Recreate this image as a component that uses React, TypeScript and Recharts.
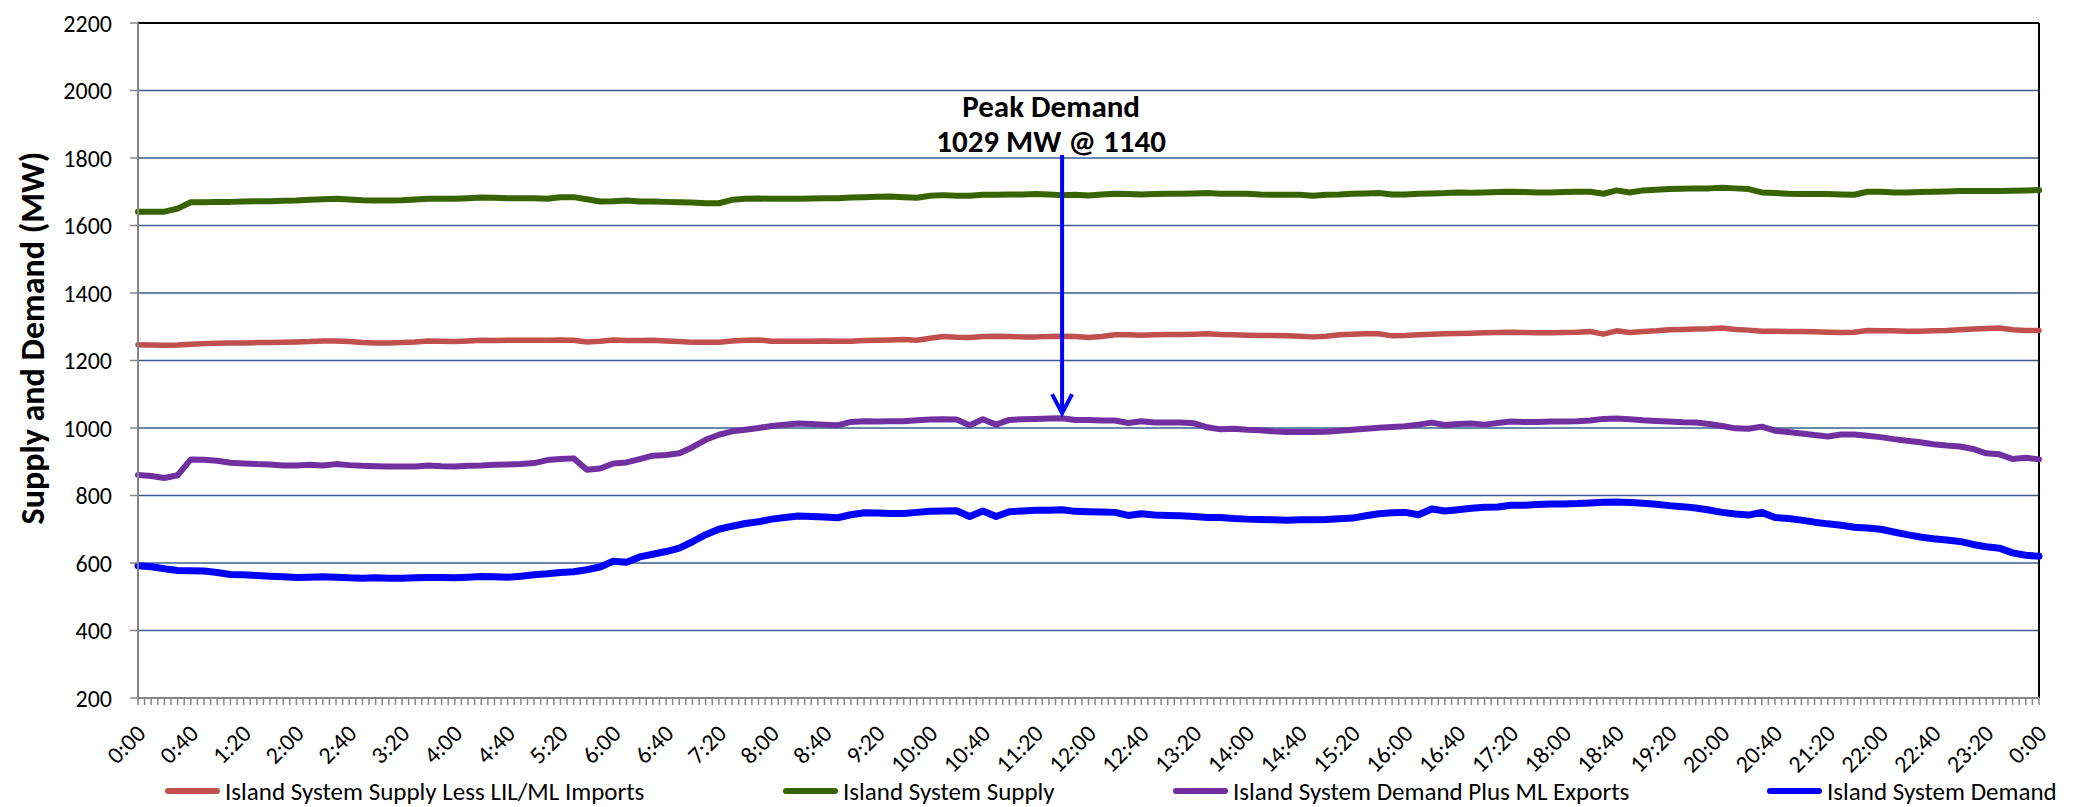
import React from "react";
import {
    LineChart,
    Line,
    XAxis,
    YAxis,
    CartesianGrid,
    ReferenceLine,
    Legend,
} from "recharts";

// 10-minute samples, 0:00 to 24:00
const minutes = Array.from({ length: 145 }, (_, i) => i * 10);

const supplyLessImports = [
    1247, 1246, 1245, 1246, 1248, 1250, 1251, 1252, 1252, 1253,
    1253, 1254, 1255, 1256, 1258, 1258, 1256, 1253, 1252, 1252,
    1253, 1255, 1258, 1257, 1256, 1258, 1260, 1259, 1260, 1260,
    1260, 1260, 1261, 1260, 1255, 1257, 1261, 1259, 1259, 1260,
    1258, 1256, 1254, 1254, 1254, 1258, 1260, 1261, 1257, 1257,
    1257, 1257, 1258, 1257, 1257, 1259, 1260, 1261, 1262, 1260,
    1266, 1271, 1269, 1268, 1271, 1272, 1271, 1270, 1270, 1271,
    1272, 1271, 1268, 1271, 1276, 1276, 1275, 1276, 1277, 1277,
    1278, 1279, 1277, 1276, 1275, 1274, 1274, 1273, 1272, 1270,
    1272, 1276, 1278, 1279, 1279, 1273, 1274, 1276, 1278, 1279,
    1280, 1281, 1282, 1283, 1284, 1283, 1282, 1282, 1283, 1284,
    1286, 1278, 1288, 1283, 1286, 1288, 1291, 1292, 1293, 1294,
    1296, 1292, 1290, 1287, 1287, 1286, 1286, 1285, 1284, 1283,
    1284, 1289, 1288, 1288, 1287, 1287, 1288, 1289, 1291, 1293,
    1295, 1296, 1291, 1289, 1289,
];

const supply = [
    1641, 1641, 1641, 1650, 1669, 1669, 1670, 1670, 1671, 1672,
    1672, 1673, 1674, 1676, 1678, 1679, 1677, 1675, 1674, 1674,
    1675, 1677, 1679, 1679, 1679, 1681, 1683, 1682, 1681, 1681,
    1681, 1679, 1684, 1684, 1678, 1671, 1672, 1674, 1671, 1671,
    1670, 1669, 1668, 1666, 1666, 1676, 1679, 1680, 1679, 1679,
    1679, 1680, 1681, 1681, 1683, 1684, 1685, 1686, 1684, 1682,
    1688, 1690, 1688, 1688, 1691, 1691, 1692, 1692, 1693, 1692,
    1690, 1691, 1689, 1692, 1694, 1693, 1692, 1693, 1694, 1694,
    1695, 1696, 1694, 1694, 1694, 1692, 1691, 1691, 1691, 1688,
    1691, 1692, 1694, 1695, 1696, 1692, 1692, 1694, 1695, 1696,
    1698, 1697, 1698, 1699, 1700, 1699, 1698, 1698, 1699, 1700,
    1700, 1694, 1704, 1698, 1704, 1706, 1708, 1709, 1710, 1710,
    1712, 1710, 1708, 1698, 1696, 1694, 1693, 1693, 1693, 1692,
    1691, 1700, 1700, 1698, 1698, 1699, 1700, 1701, 1702, 1702,
    1702, 1702, 1703, 1704, 1705,
];

const demandPlusExports = [
    861, 858, 852, 860, 907, 906, 903, 897, 895, 893,
    892, 889, 889, 891, 889, 893, 890, 888, 887, 886,
    886, 886, 889, 887, 886, 888, 889, 891, 892, 893,
    896, 905, 908, 910, 876, 880, 895, 898, 908, 918,
    920, 925, 943, 965, 980, 990, 995, 1000, 1006, 1010,
    1013, 1012, 1010, 1008, 1018, 1020, 1019, 1020, 1020, 1023,
    1025, 1026, 1025, 1008, 1026, 1010, 1024, 1026, 1027, 1028,
    1029, 1024, 1024, 1022, 1022, 1015, 1020, 1016, 1016, 1016,
    1014, 1002, 996, 998, 995, 993, 990, 988, 988, 988,
    989, 992, 995, 998, 1001, 1003, 1005, 1010, 1016, 1009,
    1012, 1013, 1010, 1015, 1019, 1018, 1018, 1019, 1019, 1020,
    1022, 1027, 1028, 1026, 1023, 1021, 1019, 1017, 1016, 1012,
    1006, 999, 998, 1004, 992, 988, 984, 979, 975, 981,
    981, 977, 973, 967, 962, 958, 952, 948, 945, 938,
    925, 922, 908, 912, 907,
];

const demand = [
    592, 589, 583, 578, 577, 576, 572, 566, 565, 563,
    561, 559, 557, 558, 559, 558, 556, 555, 556, 555,
    555, 556, 557, 557, 556, 558, 560, 559, 558, 561,
    565, 568, 572, 574, 580, 588, 605, 602, 618, 626,
    634, 644, 663, 684, 700, 709, 717, 722, 730, 735,
    739, 738, 736, 734, 743, 749, 748, 747, 747, 750,
    753, 754, 755, 738, 754, 738, 752, 754, 756, 756,
    758, 753, 752, 751, 750, 741, 746, 742, 741, 740,
    738, 735, 735, 732, 730, 729, 728, 727, 728, 728,
    729, 731, 733, 740, 746, 749, 750, 743, 760, 754,
    758, 762, 765, 766, 771, 771, 773, 775, 775, 776,
    778, 780, 781, 779, 777, 774, 770, 767, 763, 757,
    750, 745, 742, 750, 735, 732, 727, 721, 716, 712,
    706, 704, 700, 692, 684, 677, 672, 668, 664, 655,
    648, 644, 630, 623, 620,
];

const yTicks = [200, 400, 600, 800, 1000, 1200, 1400, 1600, 1800, 2000, 2200];
// a tick mark every 5 minutes, a label every 40 minutes
const xTicks = Array.from({ length: 289 }, (_, i) => i * 5);
const labelEvery = 40;

const peakText = ["Peak Demand", "1029 MW @ 1140"];
const peakTime = 700;
const arrowFrom = 1809;
const arrowTo = 1044;

const series = [
    { key: "supplyLessImports", name: "Island System Supply Less LIL/ML Imports", color: "#C0504D", width: 5.5 },
    { key: "supply", name: "Island System Supply", color: "#376400", width: 6 },
    { key: "demandPlusExports", name: "Island System Demand Plus ML Exports", color: "#7030A0", width: 6 },
    { key: "demand", name: "Island System Demand", color: "#0000FF", width: 7 },
];
const legendLeft = [165, 783, 1173, 1767];

const data = minutes.map((m, i) => ({
    min: m,
    supplyLessImports: supplyLessImports[i],
    supply: supply[i],
    demandPlusExports: demandPlusExports[i],
    demand: demand[i],
}));

const FONT = "Carlito, Lato, 'Open Sans', sans-serif";

function fmtTime(m: number) {
    const h = Math.floor(m / 60) % 24;
    const mm = m % 60;
    return `${h}:${mm < 10 ? "0" : ""}${mm}`;
}

function XTick({ x, y, payload }: any) {
    if (payload.value % labelEvery !== 0) return null;
    return (
        <text
            x={x + 9}
            y={y + 30}
            transform={`rotate(-45, ${x + 9}, ${y + 30})`}
            textAnchor="end"
            fontSize={24}
            fontFamily={FONT}
            fill="#000"
        >
            {fmtTime(payload.value)}
        </text>
    );
}

function YTitle() {
    return (
        <text
            x={32}
            y={338}
            transform="rotate(-90, 32, 338)"
            textAnchor="middle"
            dominantBaseline="central"
            fontSize={34}
            fontWeight="bold"
            fontFamily={FONT}
            fill="#000"
        >
            Supply and Demand (MW)
        </text>
    );
}

function PeakArrow({ x1, y1, x2, y2 }: any) {
    return (
        <g>
            <line x1={x1} y1={y1} x2={x2} y2={y2} stroke="#0000FF" strokeWidth={4} />
            <polyline
                points={`${x2 - 10},${y2 - 19} ${x2},${y2} ${x2 + 10},${y2 - 19}`}
                fill="none"
                stroke="#0000FF"
                strokeWidth={4}
                strokeLinejoin="miter"
            />
            {peakText.map((t, i) => (
                <text
                    key={t}
                    x={x1 - 11}
                    y={y1 - 49 + i * 35}
                    textAnchor="middle"
                    dominantBaseline="central"
                    fontSize={31}
                    fontWeight="bold"
                    fontFamily={FONT}
                    fill="#000"
                >
                    {t}
                </text>
            ))}
        </g>
    );
}

function LegendRow() {
    return (
        <div style={{ position: "relative", width: 2080, height: 38, fontFamily: FONT }}>
            {series.map((s, i) => (
                <div
                    key={s.key}
                    style={{
                        position: "absolute",
                        left: legendLeft[i],
                        top: 0,
                        height: 38,
                        display: "flex",
                        alignItems: "center",
                        whiteSpace: "nowrap",
                    }}
                >
                    <span
                        style={{
                            display: "inline-block",
                            width: 55,
                            height: 6,
                            borderRadius: 3,
                            background: s.color,
                            marginRight: 5,
                        }}
                    />
                    <span style={{ fontSize: 25, color: "#000" }}>{s.name}</span>
                </div>
            ))}
        </div>
    );
}

export default function App() {
    return (
        <div style={{ position: "absolute", left: 0, top: 0, width: 2080, height: 807, background: "#fff" }}>
            <LineChart
                width={2080}
                height={807}
                data={data}
                margin={{ top: 23, right: 41, bottom: 0, left: 0 }}
            >
                <CartesianGrid vertical={false} stroke="#3B5E8C" strokeWidth={1.5} />
                <XAxis
                    dataKey="min"
                    type="number"
                    domain={[0, 1440]}
                    ticks={xTicks}
                    interval={0}
                    height={109}
                    tick={<XTick />}
                    tickSize={7}
                    tickMargin={0}
                    axisLine={{ stroke: "#868686", strokeWidth: 2 }}
                    tickLine={{ stroke: "#868686", strokeWidth: 1.5 }}
                />
                <YAxis
                    type="number"
                    domain={[200, 2200]}
                    ticks={yTicks}
                    interval={0}
                    width={138}
                    tickSize={8}
                    tickMargin={18}
                    tick={{ fontSize: 24, fill: "#000", fontFamily: FONT }}
                    axisLine={{ stroke: "#868686", strokeWidth: 2 }}
                    tickLine={{ stroke: "#868686", strokeWidth: 1.5 }}
                    label={<YTitle />}
                />
                <ReferenceLine y={2200} stroke="#000" strokeWidth={2} />
                <ReferenceLine x={1440} stroke="#000" strokeWidth={2} />
                {series.map((s) => (
                    <Line
                        key={s.key}
                        dataKey={s.key}
                        name={s.name}
                        type="linear"
                        stroke={s.color}
                        strokeWidth={s.width}
                        strokeLinejoin="round"
                        strokeLinecap="round"
                        dot={false}
                        activeDot={false}
                        isAnimationActive={false}
                    />
                ))}
                <ReferenceLine
                    segment={[
                        { x: peakTime, y: arrowFrom },
                        { x: peakTime, y: arrowTo },
                    ]}
                    shape={<PeakArrow />}
                />
                <Legend
                    layout="horizontal"
                    verticalAlign="middle"
                    wrapperStyle={{ left: 0, top: 772, width: 2080, height: 38 }}
                    content={<LegendRow />}
                />
            </LineChart>
        </div>
    );
}
